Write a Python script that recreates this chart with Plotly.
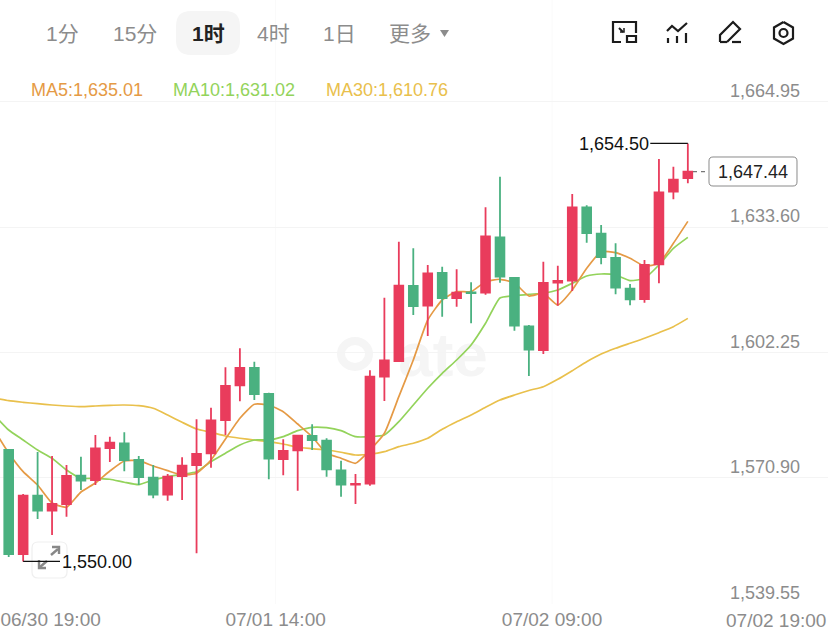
import plotly.graph_objects as go

# Hourly candles, oldest first
candle_index = list(range(48))
opens = [1577.85, 1551.85, 1566.43, 1562.68, 1564.35, 1571.43, 1570.35, 1578.35, 1579.53, 1575.35,
         1570.93, 1566.68, 1571.35, 1574.10, 1577.03, 1585.35, 1594.03, 1598.35, 1591.85, 1575.60,
         1577.78, 1581.35, 1580.18, 1572.78, 1569.18, 1569.43, 1596.18, 1600.10, 1618.85, 1613.93,
         1622.10, 1615.85, 1617.28, 1617.18, 1631.03, 1620.85, 1608.78, 1602.85, 1619.68, 1620.18,
         1638.53, 1631.93, 1625.85, 1618.18, 1615.60, 1624.28, 1642.43, 1645.85]
highs = [1577.85, 1566.85, 1577.35, 1576.35, 1574.10, 1576.18, 1581.60, 1581.18, 1582.28, 1576.35,
         1574.10, 1571.85, 1576.03, 1585.53, 1588.43, 1598.53, 1603.28, 1599.93, 1592.18, 1580.53,
         1581.60, 1584.28, 1580.78, 1575.18, 1571.85, 1597.78, 1615.93, 1629.93, 1628.28, 1624.10,
         1623.68, 1623.03, 1619.78, 1638.53, 1646.18, 1621.10, 1609.10, 1624.93, 1623.93, 1641.85,
         1639.03, 1634.10, 1629.53, 1619.35, 1625.35, 1650.60, 1648.68, 1654.50]
lows = [1551.10, 1550.00, 1560.60, 1556.60, 1561.18, 1567.85, 1569.10, 1574.85, 1572.53, 1569.10,
        1565.78, 1565.18, 1565.35, 1552.03, 1573.43, 1581.60, 1590.03, 1590.35, 1570.53, 1571.53,
        1567.68, 1577.85, 1571.18, 1566.18, 1564.35, 1568.93, 1590.10, 1600.10, 1611.60, 1606.35,
        1611.18, 1613.68, 1609.53, 1616.68, 1619.68, 1607.68, 1596.35, 1601.85, 1613.93, 1617.60,
        1629.68, 1624.28, 1616.78, 1614.03, 1614.68, 1619.53, 1640.53, 1644.53]
closes = [1551.85, 1566.43, 1562.68, 1564.35, 1571.35, 1570.18, 1578.28, 1579.68, 1575.35, 1571.10,
          1566.68, 1571.18, 1573.93, 1576.85, 1585.28, 1593.85, 1598.35, 1591.85, 1575.68, 1577.60,
          1581.43, 1580.35, 1573.03, 1569.18, 1569.35, 1596.18, 1600.28, 1618.93, 1613.85, 1622.03,
          1615.85, 1617.18, 1617.10, 1631.28, 1621.18, 1608.93, 1602.93, 1619.60, 1620.10, 1638.53,
          1632.10, 1626.10, 1618.43, 1615.53, 1624.10, 1642.28, 1645.43, 1647.44]

# Moving averages start one bar before the first visible candle
ma_index = list(range(-1, 48))
ma5 = [1582.85, 1577.10, 1572.43, 1569.10, 1564.60, 1563.53, 1567.35, 1569.60, 1572.60, 1575.10,
       1575.18, 1573.85, 1572.68, 1571.60, 1572.03, 1575.35, 1580.60, 1585.78, 1589.28, 1589.10,
       1587.43, 1584.35, 1581.18, 1577.03, 1575.78, 1574.53, 1577.85, 1582.03, 1591.18, 1600.35,
       1610.35, 1615.35, 1617.43, 1617.43, 1619.93, 1620.53, 1619.60, 1616.35, 1617.03, 1614.10,
       1617.85, 1623.28, 1627.43, 1627.18, 1625.78, 1623.85, 1624.53, 1629.53, 1635.01]
ma10 = [1586.60, 1582.85, 1580.35, 1577.85, 1575.78, 1572.85, 1570.78, 1570.78, 1570.53, 1569.78,
        1569.18, 1570.35, 1571.18, 1571.78, 1572.43, 1574.93, 1577.03, 1579.10, 1580.35, 1580.35,
        1581.18, 1582.68, 1583.53, 1583.43, 1582.68, 1581.18, 1581.18, 1581.60, 1584.93, 1589.10,
        1593.28, 1597.03, 1600.35, 1604.10, 1609.53, 1615.85, 1616.43, 1616.78, 1617.03, 1617.85,
        1619.53, 1621.35, 1621.85, 1621.60, 1620.18, 1620.78, 1624.10, 1628.28, 1631.02]
ma30 = [1590.85, 1590.18, 1589.78, 1589.43, 1589.10, 1588.85, 1588.68, 1588.85, 1589.03, 1589.10,
        1588.93, 1588.28, 1586.60, 1584.78, 1583.10, 1582.28, 1581.35, 1580.78, 1580.35, 1579.93,
        1579.35, 1578.53, 1578.18, 1577.85, 1577.28, 1576.60, 1576.78, 1577.43, 1578.68, 1579.53,
        1580.78, 1583.03, 1584.93, 1586.60, 1588.53, 1590.35, 1591.60, 1592.73, 1593.68, 1595.53,
        1597.68, 1599.93, 1601.85, 1603.28, 1604.53, 1605.78, 1607.18, 1608.68, 1610.76]

# Axis labels
price_ticks = [1539.55, 1570.90, 1602.25, 1633.60, 1664.95]
time_tick_positions = [2.9, 18.47, 37.6]
time_tick_labels = ["06/30 19:00", "07/01 14:00", "07/02 09:00"]
end_time_position = 53.1
end_time_label = "07/02 19:00"

# Toolbar and legend text
tabs = [("1分", 62), ("15分", 135), ("1时", 208), ("4时", 273), ("1日", 339), ("更多", 410)]
active_tab = "1时"

RED = "#E93C5C"
GREEN = "#4AB180"
ORANGE = "#E59A45"
LIME = "#93D35B"
YELLOW = "#E9C04C"
GREY = "#8C8C8C"
INK = "#222222"
FONT = "Liberation Sans, Noto Sans CJK SC, sans-serif"

WIDTH, HEIGHT, PLOT_BOTTOM = 828, 632, 604
X_RANGE = [-0.602, 56.70]
Y_RANGE = [1539.35, 1690.35]


def fx(px):
    return px / WIDTH


def fy(py):
    return (PLOT_BOTTOM - py) / PLOT_BOTTOM


def path(points, close=False):
    cmds = [f"{'M' if i == 0 else 'L'}{fx(x):.5f},{fy(y):.5f}" for i, (x, y) in enumerate(points)]
    return " ".join(cmds) + (" Z" if close else "")


def rounded_rect(x0, y0, x1, y1, r):
    return (f"M{fx(x0 + r):.5f},{fy(y0):.5f} L{fx(x1 - r):.5f},{fy(y0):.5f} "
            f"Q{fx(x1):.5f},{fy(y0):.5f} {fx(x1):.5f},{fy(y0 + r):.5f} "
            f"L{fx(x1):.5f},{fy(y1 - r):.5f} Q{fx(x1):.5f},{fy(y1):.5f} {fx(x1 - r):.5f},{fy(y1):.5f} "
            f"L{fx(x0 + r):.5f},{fy(y1):.5f} Q{fx(x0):.5f},{fy(y1):.5f} {fx(x0):.5f},{fy(y1 - r):.5f} "
            f"L{fx(x0):.5f},{fy(y0 + r):.5f} Q{fx(x0):.5f},{fy(y0):.5f} {fx(x0 + r):.5f},{fy(y0):.5f} Z")


fig = go.Figure()

# Averages sit on the base axes so the candles, on the overlay axes, cover them
for name, values, color in (("MA30", ma30, YELLOW), ("MA10", ma10, LIME), ("MA5", ma5, ORANGE)):
    fig.add_trace(go.Scatter(x=ma_index, y=values, mode="lines", name=name,
                             line=dict(color=color, width=1.7, shape="spline", smoothing=0.5)))

fig.add_trace(go.Candlestick(
    x=candle_index, open=opens, high=highs, low=lows, close=closes, xaxis="x2", yaxis="y2",
    increasing=dict(line=dict(color=RED, width=1.8), fillcolor=RED),
    decreasing=dict(line=dict(color=GREEN, width=1.8), fillcolor=GREEN),
    whiskerwidth=0,
))

shapes = []
annotations = []


def line_shape(points, color, width, **kw):
    shapes.append(dict(type="path", xref="paper", yref="paper", path=path(points),
                       line=dict(color=color, width=width, **kw)))


def text(x, y, s, size=18, color=GREY, anchor="left", **kw):
    annotations.append(dict(xref="paper", yref="paper", x=fx(x), y=fy(y), text=s, showarrow=False,
                            xanchor=anchor, yanchor="middle", borderpad=0,
                            font=dict(size=size, color=color, family=FONT), **kw))


# Faint vertical grid lines behind the price action
for pos in time_tick_positions[1:3]:
    shapes.append(dict(type="line", xref="x", yref="paper", x0=pos, x1=pos, y0=0, y1=1, layer="below",
                       line=dict(color="#FAFAFA", width=1)))

# Watermark
shapes.append(dict(type="circle", xref="paper", yref="paper", layer="below",
                   x0=fx(341), x1=fx(369), y0=fy(367), y1=fy(341),
                   line=dict(color="#F5F5F5", width=8)))
shapes.append(dict(type="rect", xref="paper", yref="paper", layer="below",
                   x0=fx(388), x1=fx(498), y0=fy(372), y1=fy(324), line=dict(width=0),
                   label=dict(text="ate", textposition="middle center",
                              font=dict(size=62, color="#F5F5F5", family=FONT, weight="bold"))))

# Toolbar: active tab pill, tab labels, dropdown marker
shapes.append(dict(type="path", xref="paper", yref="paper", path=rounded_rect(176, 11, 240, 55, 15),
                   fillcolor="#F5F5F5", line=dict(width=0), layer="below"))
for label, center in tabs:
    active = label == active_tab
    text(center, 33, f"<b>{label}</b>" if active else label, size=21,
         color=INK if active else GREY, anchor="center")
shapes.append(dict(type="path", xref="paper", yref="paper",
                   path=path([(440, 30), (449, 30), (444.5, 37)], close=True),
                   fillcolor=GREY, line=dict(width=0)))

# Toolbar icons
ICON = "#1C1C1C"
line_shape([(621, 42), (613, 42), (613, 22), (636, 22), (636, 33)], ICON, 2.2)
shapes.append(dict(type="rect", xref="paper", yref="paper", x0=fx(627), x1=fx(636), y0=fy(42), y1=fy(36),
                   line=dict(color=ICON, width=2.2)))
line_shape([(619, 28), (623, 32)], ICON, 2)
line_shape([(624, 28), (624, 32), (620, 32)], ICON, 1.5)
line_shape([(667, 31), (672, 26), (678, 31), (687, 23)], ICON, 2.2)
line_shape([(668, 38), (668, 43)], ICON, 2.2)
line_shape([(677, 36), (677, 43)], ICON, 2.2)
line_shape([(686, 33), (686, 43)], ICON, 2.2)
line_shape([(720, 42), (720, 35), (733, 22), (740, 29), (727, 42)], ICON, 2.2)
line_shape([(720, 42), (727, 42)], ICON, 2.2)
line_shape([(732, 42), (741, 42)], ICON, 2.2)
line_shape([(783.5, 22), (793, 27.5), (793, 38.5), (783.5, 44), (774, 38.5), (774, 27.5), (783.5, 22)], ICON, 2.2)
shapes.append(dict(type="circle", xref="paper", yref="paper", x0=fx(779.5), x1=fx(787.5),
                   y0=fy(37), y1=fy(29), line=dict(color=ICON, width=2.2)))

# Moving-average legend
text(30, 90, f"MA5:{ma5[-1]:,.2f}", color=ORANGE)
text(172, 90, f"MA10:{ma10[-1]:,.2f}", color=LIME)
text(325, 90, f"MA30:{ma30[-1]:,.2f}", color=YELLOW)

# Closing time label on the x axis row
annotations.append(dict(xref="x", yref="paper", x=end_time_position, y=fy(620), text=end_time_label,
                        showarrow=False, xanchor="center", yanchor="middle",
                        font=dict(size=19, color=GREY, family=FONT)))

# High / low callouts, attached to the extreme candles
high_value, high_pos = max(highs), highs.index(max(highs))
low_value, low_pos = min(lows), lows.index(min(lows))
shapes.append(dict(type="line", xref="x", yref="y", x0=high_pos - 2.6, x1=high_pos, y0=high_value, y1=high_value,
                   line=dict(color="#111111", width=1.2)))
annotations.append(dict(xref="x", yref="y", x=high_pos - 2.6, y=high_value, text=f"{high_value:,.2f}", showarrow=False,
                        xanchor="right", yanchor="middle", xshift=1, yshift=-1,
                        font=dict(size=18, color="#111111", family=FONT)))

# Expand button over the lower-left corner
shapes.append(dict(type="path", xref="paper", yref="paper", path=rounded_rect(32, 542, 67, 578, 6),
                   fillcolor="rgba(255,255,255,0.75)", line=dict(color="#EFEFEF", width=1.2)))
line_shape([(51, 555), (58, 549)], "#888888", 2.4)
line_shape([(52, 547), (59, 547), (59, 554)], "#888888", 2.4)
line_shape([(47, 561), (40, 567)], "#888888", 2.4)
line_shape([(39, 560), (39, 568), (46, 568)], "#888888", 2.4)
shapes.append(dict(type="line", xref="x", yref="y", x0=low_pos, x1=low_pos + 2.55, y0=low_value, y1=low_value,
                   line=dict(color="#111111", width=1.2)))
annotations.append(dict(xref="x", yref="y", x=low_pos + 2.55, y=low_value, text=f"{low_value:,.2f}", showarrow=False,
                        xanchor="left", yanchor="middle", xshift=0, yshift=-1,
                        font=dict(size=18, color="#111111", family=FONT)))

# Last-price tag
last_price = closes[-1]
shapes.append(dict(type="line", xref="paper", yref="y", x0=fx(693), x1=fx(709), y0=last_price, y1=last_price,
                   line=dict(color="#777777", width=1.2, dash="4px,4px")))
shapes.append(dict(type="path", xref="paper", yref="paper", path=rounded_rect(709, 157, 797, 186, 4),
                   fillcolor="white", line=dict(color="#8A8A8A", width=1)))
text(753, 172, f"{last_price:,.2f}", color=INK, anchor="center")

fig.update_layout(
    width=WIDTH, height=HEIGHT, margin=dict(l=0, r=0, t=0, b=HEIGHT - PLOT_BOTTOM),
    paper_bgcolor="white", plot_bgcolor="white", showlegend=False, boxgap=0.13,
    font=dict(family=FONT),
    shapes=shapes, annotations=annotations,
    xaxis=dict(range=X_RANGE, tickmode="array", tickvals=time_tick_positions, ticktext=time_tick_labels,
               showgrid=False, zeroline=False, showline=False, ticks="", ticklen=0,
               ticklabeloverflow="allow", ticklabelstandoff=2,
               tickfont=dict(size=19, color=GREY, family=FONT)),
    yaxis=dict(range=Y_RANGE, side="right", tickmode="array", tickvals=price_ticks, tickformat=",.2f",
               ticklabelposition="inside", ticklabelstandoff=25, ticklabelshift=-11,
               showgrid=True, gridcolor="#F4F4F4", gridwidth=1, zeroline=False, showline=False, ticks="",
               tickfont=dict(size=18, color=GREY, family=FONT)),
    xaxis2=dict(range=X_RANGE, overlaying="x", visible=False, rangeslider=dict(visible=False)),
    yaxis2=dict(range=Y_RANGE, overlaying="y", side="right", visible=False),
)

fig.write_html("out.html")
